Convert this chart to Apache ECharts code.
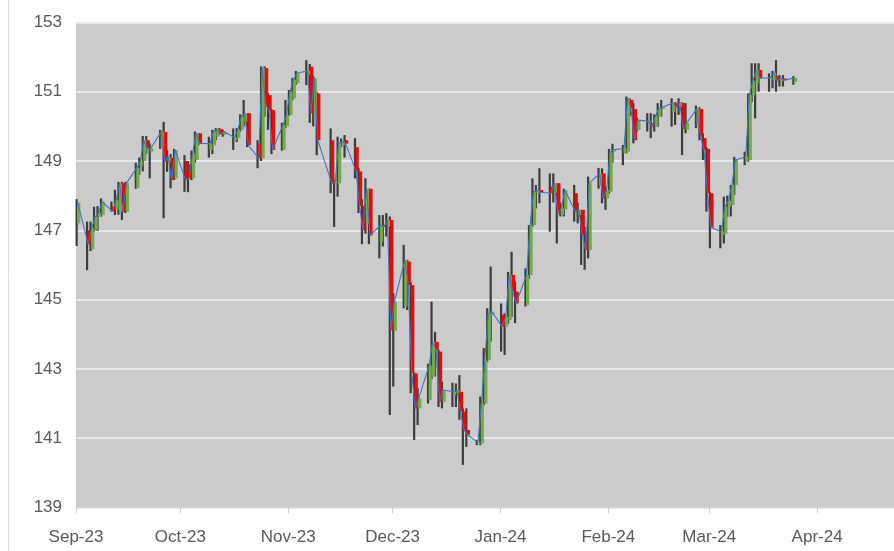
<!DOCTYPE html>
<html><head><meta charset="utf-8">
<script src="https://cdn.jsdelivr.net/npm/echarts@6/dist/echarts.min.js"></script>
<style>html,body{margin:0;padding:0;background:#fff}#c{width:894px;height:551px}</style>
</head><body><div id="c"></div><script>
// ---- data (one row per trading week) ----
const dates = [
 '2023-09-01','2023-09-04','2023-09-05','2023-09-06','2023-09-07','2023-09-08',
 '2023-09-11','2023-09-12','2023-09-13','2023-09-14','2023-09-15',
 '2023-09-18','2023-09-19','2023-09-20','2023-09-21','2023-09-22',
 '2023-09-25','2023-09-26','2023-09-27','2023-09-28','2023-09-29',
 '2023-10-02','2023-10-03','2023-10-04','2023-10-05','2023-10-06',
 '2023-10-09','2023-10-10','2023-10-11','2023-10-12','2023-10-13',
 '2023-10-16','2023-10-17','2023-10-18','2023-10-19','2023-10-20',
 '2023-10-23','2023-10-24','2023-10-25','2023-10-26','2023-10-27',
 '2023-10-30','2023-10-31','2023-11-01','2023-11-02','2023-11-03',
 '2023-11-06','2023-11-07','2023-11-08','2023-11-09',
 '2023-11-13','2023-11-14','2023-11-15','2023-11-16','2023-11-17',
 '2023-11-20','2023-11-21','2023-11-22','2023-11-23','2023-11-24',
 '2023-11-27','2023-11-28','2023-11-29','2023-11-30','2023-12-01',
 '2023-12-04','2023-12-05','2023-12-06','2023-12-07','2023-12-08',
 '2023-12-11','2023-12-12','2023-12-13','2023-12-14','2023-12-15',
 '2023-12-18','2023-12-19','2023-12-20','2023-12-21','2023-12-22',
 '2023-12-25','2023-12-26','2023-12-27','2023-12-28','2023-12-29',
 '2024-01-01','2024-01-02','2024-01-03','2024-01-04','2024-01-05',
 '2024-01-08','2024-01-09','2024-01-10','2024-01-11','2024-01-12',
 '2024-01-15','2024-01-16','2024-01-17','2024-01-18','2024-01-19',
 '2024-01-22','2024-01-23','2024-01-24','2024-01-25','2024-01-26',
 '2024-01-29','2024-01-30','2024-01-31','2024-02-01','2024-02-02',
 '2024-02-05','2024-02-06','2024-02-07','2024-02-08','2024-02-09',
 '2024-02-12','2024-02-13','2024-02-14','2024-02-15','2024-02-16',
 '2024-02-19','2024-02-20','2024-02-21','2024-02-22','2024-02-23',
 '2024-02-26','2024-02-27','2024-02-28','2024-02-29','2024-03-01',
 '2024-03-04','2024-03-05','2024-03-06','2024-03-07','2024-03-08',
 '2024-03-11','2024-03-12','2024-03-13','2024-03-14','2024-03-15',
 '2024-03-18','2024-03-19','2024-03-20','2024-03-21','2024-03-22',
 '2024-03-25'
];
const opens = [
 147.2,147.0,146.45,147.0,147.39,147.44,
 147.68,147.6,147.54,148.36,147.54,
 148.22,148.85,149.0,149.6,149.27,
 149.4,149.84,148.98,149.1,148.5,
 149.0,148.9,148.5,149.03,149.8,
 149.32,149.45,149.7,149.92,149.75,
 149.6,149.66,149.9,150.13,150.38,
 149.5,149.08,151.68,150.9,150.47,
 149.32,150.0,150.33,150.81,151.24,
 151.5,151.72,150.28,150.95,
 149.6,148.36,148.36,149.46,149.6,
 149.4,148.7,147.7,147.2,148.2,
 146.67,147.15,147.1,147.3,144.1,
 144.8,146.1,145.42,142.87,141.86,
 142.1,142.8,143.78,143.5,142.05,
 142.25,142.3,142.34,141.77,141.24,
 140.85,140.85,142.0,143.26,144.56,
 144.56,144.22,144.41,145.71,145.23,
 144.84,145.71,147.15,148.07,148.16,
 148.26,148.07,148.36,147.44,147.6,
 148.07,147.44,147.59,146.86,146.43,
 148.31,148.64,147.92,148.11,149.3,
 149.22,149.27,150.76,150.5,149.9,
 150.1,150.09,150.0,150.28,150.5,
 150.42,150.67,150.55,150.67,149.9,
 150.04,150.5,149.66,149.35,148.07,
 146.86,146.9,147.68,147.73,148.31,
 148.98,149.03,150.9,151.24,151.63,
 151.38,151.35,151.45,151.3,151.38,
 151.28
];
const highs = [
 147.9,147.25,147.25,147.68,147.7,147.92,
 147.83,148.17,148.4,148.4,148.4,
 148.95,149.1,149.72,149.72,149.51,
 149.9,150.13,149.32,149.2,149.35,
 149.17,149.0,149.3,149.85,149.8,
 149.7,149.9,149.95,149.95,149.9,
 149.94,149.95,150.35,150.76,150.38,
 149.6,151.73,151.73,150.95,150.5,
 150.1,150.76,151.05,151.4,151.6,
 151.91,151.8,151.45,151.0,
 149.94,148.45,149.7,149.65,149.75,
 149.66,148.8,147.9,148.5,148.2,
 147.44,147.44,147.5,147.4,145.18,
 146.58,146.15,145.5,142.9,142.44,
 143.15,144.94,144.07,143.55,142.63,
 142.6,142.58,142.82,141.86,141.86,
 140.95,142.2,143.6,144.75,145.95,
 144.89,144.6,145.8,146.38,145.52,
 145.9,147.15,148.5,148.31,148.79,
 148.64,148.64,148.36,147.8,148.2,
 148.31,147.8,147.59,147.1,148.55,
 148.8,148.79,148.26,149.35,149.5,
 149.46,150.86,150.81,150.67,150.25,
 150.38,150.38,150.35,150.67,150.76,
 150.81,150.7,150.81,150.7,150.67,
 150.6,150.55,149.8,149.4,148.1,
 147.15,147.97,148.0,148.31,149.12,
 149.27,150.95,151.82,151.82,151.82,
 151.53,151.6,151.91,151.48,151.48,
 151.45
];
const lows = [
 146.55,145.85,146.4,146.96,146.98,147.39,
 147.54,147.44,147.45,147.3,147.5,
 148.2,148.6,148.7,149.2,148.5,
 149.35,147.35,148.69,148.21,148.45,
 148.11,148.1,148.45,148.95,149.45,
 149.1,149.2,149.6,149.75,149.7,
 149.32,149.55,149.85,149.99,149.4,
 148.79,149.0,150.28,149.9,149.2,
 149.3,149.95,150.3,150.75,151.2,
 151.19,150.1,150.0,149.17,
 148.07,147.1,147.97,149.4,149.1,
 148.5,147.5,146.6,146.9,146.6,
 146.19,146.53,146.82,141.67,142.49,
 144.75,144.7,142.3,140.95,141.38,
 142.0,142.7,142.78,141.9,141.86,
 141.9,141.9,141.53,140.23,140.75,
 140.8,140.8,141.95,143.2,143.79,
 143.5,143.4,144.3,144.5,144.32,
 144.8,145.6,147.1,147.63,147.78,
 146.96,147.8,146.62,147.4,147.4,
 147.25,147.2,146.0,145.86,146.19,
 148.2,147.78,147.59,148.05,148.95,
 148.88,149.22,150.3,149.51,149.85,
 149.85,149.66,149.85,149.99,150.28,
 149.99,150.04,150.33,149.17,149.8,
 149.95,149.6,149.03,147.54,146.48,
 146.48,146.62,147.39,147.4,148.02,
 148.88,148.98,150.7,150.23,151.0,
 151.0,151.1,151.0,151.15,151.15,
 151.2
];
const closes = [
 147.8,146.6,147.05,147.39,147.49,147.83,
 147.55,147.87,148.36,147.54,148.36,
 148.8,149.0,149.6,149.37,149.37,
 149.84,148.98,149.12,148.45,149.32,
 148.45,148.5,149.22,149.8,149.51,
 149.5,149.85,149.92,149.78,149.85,
 149.68,149.9,150.28,150.38,149.46,
 149.08,151.68,150.62,150.45,149.32,
 150.04,150.33,151.0,151.34,151.53,
 151.6,150.38,151.39,149.6,
 148.36,148.4,149.51,149.56,149.5,
 148.7,147.7,147.0,148.2,146.85,
 147.15,147.1,147.3,144.12,144.94,
 146.14,145.42,142.87,141.86,142.15,
 143.1,143.78,143.55,142.05,142.39,
 142.34,142.38,141.77,141.24,141.1,
 140.88,142.0,143.26,144.6,144.65,
 144.22,144.5,145.71,145.23,144.89,
 145.71,147.15,148.11,148.16,148.1,
 148.07,148.36,147.49,147.63,148.16,
 147.54,147.59,146.86,146.43,148.36,
 148.64,147.92,148.16,149.25,149.32,
 149.37,150.81,150.52,149.6,150.18,
 150.15,149.99,150.28,150.52,150.55,
 150.67,150.55,150.7,149.94,150.09,
 150.52,149.7,149.32,148.07,147.08,
 146.96,147.68,147.85,148.31,149.03,
 149.12,150.9,151.3,151.63,151.39,
 151.4,151.55,151.3,151.39,151.33,
 151.4
];
const monthTicks = ['2023-09-01','2023-10-01','2023-11-01','2023-12-01','2024-01-01','2024-02-01','2024-03-01','2024-04-01'];
const monthNames = ['Jan','Feb','Mar','Apr','May','Jun','Jul','Aug','Sep','Oct','Nov','Dec'];
const yMin = 139, yMax = 153, yStep = 2;
const axisStart = '2023-09-01', axisEndDays = 235.1;

// ---- helpers ----
const DAY = 86400000;
function ts(s){ const p = s.split('-').map(Number); return Date.UTC(p[0], p[1]-1, p[2]); }
// Excel date axis places each day's point in the middle of its day slot
const ptX = d => ts(d) + DAY/2;
const xMin = ts(axisStart), xMax = xMin + axisEndDays*DAY;

const hlData = dates.map((d,i)=>[ptX(d), lows[i], highs[i]]);
const bodyData = dates.map((d,i)=>[ptX(d), opens[i], closes[i]]);
const lineData = dates.map((d,i)=>[ptX(d), closes[i]]);

const FONT = "'Liberation Sans',sans-serif";
const chart = echarts.init(document.getElementById('c'), null, {renderer:'canvas'});
chart.setOption({
  animation:false,
  backgroundColor:'#ffffff',
  grid:{left:76, right:0, top:22.4, bottom:43.5, show:true, backgroundColor:'#CBCBCB', borderWidth:0},
  xAxis:{
    type:'value', min:xMin, max:xMax,
    splitLine:{show:false},
    axisLine:{show:true, lineStyle:{color:'#D6D6D6', width:1}},
    axisTick:{show:true, customValues:monthTicks.map(ts), length:6, lineStyle:{color:'#D0D0D0'}},
    axisLabel:{customValues:monthTicks.map(ts), color:'#595959', fontSize:17, fontFamily:FONT, margin:21,
      formatter:v=>{const d=new Date(v); return monthNames[d.getUTCMonth()]+'-'+String(d.getUTCFullYear()).slice(2);}}
  },
  yAxis:{
    type:'value', min:yMin, max:yMax, interval:yStep,
    axisLine:{show:false}, axisTick:{show:false},
    splitLine:{show:true, lineStyle:{color:'#E4E8EC', width:2}},
    axisLabel:{color:'#595959', fontSize:17, fontFamily:FONT, margin:14}
  },
  graphic:[{type:'line', shape:{x1:8.5,y1:0,x2:8.5,y2:551}, style:{stroke:'#DDDDDD', lineWidth:1}, silent:true}],
  series:[
    {type:'custom', name:'High-Low', data:hlData, encode:{x:0, y:[1,2]}, z:2,
     renderItem:(params, api)=>{
       const x = api.value(0);
       const pH = api.coord([x, api.value(2)]), pL = api.coord([x, api.value(1)]);
       return {type:'rect', shape:{x:pH[0]-2.2, y:pH[1], width:2.2, height:Math.max(1,pL[1]-pH[1])}, style:{fill:'#3C3C3C'}};
     }},
    {type:'custom', name:'Open-Close', data:bodyData, encode:{x:0, y:[1,2]}, z:3,
     renderItem:(params, api)=>{
       const x = api.value(0), o = api.value(1), c = api.value(2);
       const pT = api.coord([x, Math.max(o,c)]), pB = api.coord([x, Math.min(o,c)]);
       return {type:'rect', shape:{x:pT[0]-0.6, y:pT[1], width:3.2, height:Math.max(1.5,pB[1]-pT[1])},
               style:{fill: c>=o ? '#70AD47' : '#FF0000'}};
     }},
    {type:'line', name:'Close', data:lineData, showSymbol:false, z:4,
     lineStyle:{color:'#4472C4', width:1.1}, itemStyle:{color:'#4472C4'}}
  ]
});
</script></body></html>
